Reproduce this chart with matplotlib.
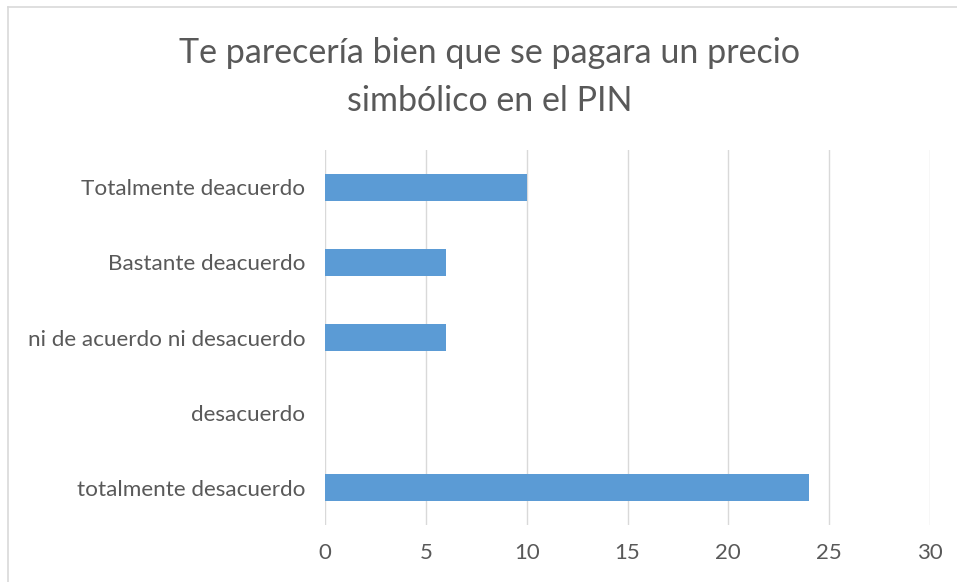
import matplotlib
matplotlib.use("Agg")
import matplotlib.pyplot as plt
from matplotlib.lines import Line2D

categories = ["Totalmente deacuerdo", "Bastante deacuerdo", "ni de acuerdo ni desacuerdo",
              "desacuerdo", "totalmente desacuerdo"]
values = [10, 6, 6, 0, 24]
xticks = [0, 5, 10, 15, 20, 25, 30]
title = "Te parecería bien que se pagara un precio\nsimbólico en el PIN"

plt.rcParams['font.family'] = ['Lato', 'DejaVu Sans']
fig = plt.figure(figsize=(9.57, 5.82), dpi=100)
ax = fig.add_axes([0.3396, 0.0979, 0.9718 - 0.3396, 0.7423 - 0.0979])

ypos = list(range(len(categories)))
ax.barh(ypos, values, height=0.35, color="#5B9BD5", zorder=3)
ax.set_ylim(len(categories) - 0.5, -0.5)
ax.set_xlim(0, 30)
ax.set_xticks(xticks)
ax.set_xticklabels([str(t) for t in xticks], fontsize=16, color="#595959")
ax.set_yticks(ypos)
ax.set_yticklabels(categories, fontsize=16.2, color="#595959")
ax.tick_params(axis="both", length=0)
ax.tick_params(axis="x", pad=13)
ax.tick_params(axis="y", pad=14)
ax.grid(axis="x", color="#D9D9D9", linewidth=1, zorder=0)
for s in ax.spines.values():
    s.set_visible(False)

fig.text(0.512, 1 - 77 / 582, title, ha="center", va="center", fontsize=24.5, color="#595959",
         linespacing=1.6)

# chart frame lines (top and left)
fig.add_artist(Line2D([8 / 957, 1], [1 - 7 / 582, 1 - 7 / 582], color="#D9D9D9", linewidth=1.2))
fig.add_artist(Line2D([8 / 957, 8 / 957], [0, 1 - 7 / 582], color="#D9D9D9", linewidth=1.2))

fig.savefig("out.png", dpi=100)
